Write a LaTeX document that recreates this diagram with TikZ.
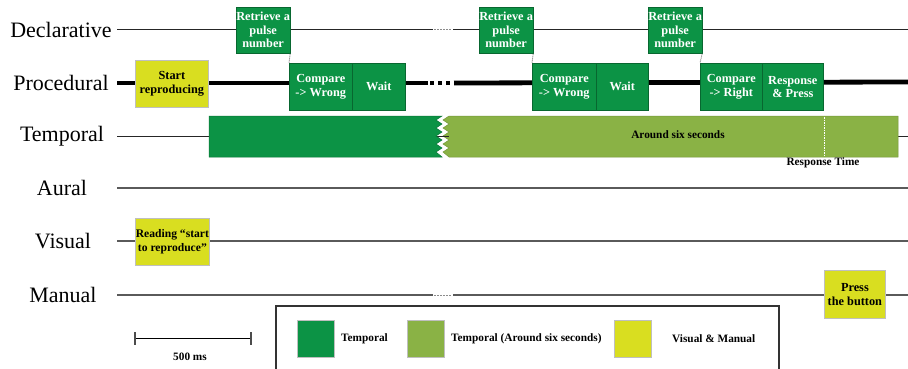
\documentclass[tikz,border=0pt]{standalone}
\usepackage{fontspec}
\setmainfont{Liberation Serif}
\definecolor{dgreen}{RGB}{12,147,69}
\definecolor{lgreen}{RGB}{138,178,69}
\definecolor{yel}{RGB}{217,222,32}
\definecolor{lineg}{RGB}{90,90,90}
\begin{document}
\begin{tikzpicture}[x=1pt,y=-1pt,
  rowlabel/.style={font=\fontsize{22}{25}\selectfont, inner sep=0pt},
  boxtext/.style={font=\bfseries\fontsize{12.3}{13.5}\selectfont, align=center, inner sep=0pt, anchor=north west},
  gbox/.style={boxtext, fill=dgreen, draw=dgreen!70!black, line width=0.6pt, text=white},
  ybox/.style={boxtext, fill=yel, draw=black!25, line width=0.8pt, text=black},
  thinline/.style={draw=black!85, line width=1pt},
  grayline/.style={draw=lineg, line width=1.3pt},
  gapdots/.style={draw=black!45, line width=1pt, dash pattern=on 1.5pt off 1.5pt},
  link/.style={draw=black!60, line width=0.8pt, dash pattern=on 1pt off 1pt},
  small/.style={font=\bfseries\fontsize{11.3}{13}\selectfont, inner sep=0pt},
  legsq/.style={draw=black!25, line width=0.8pt, minimum width=37pt, minimum height=37pt, inner sep=0pt, anchor=north west}
]
\useasboundingbox (0,0) rectangle (908,369);
\clip (0,0) rectangle (908,369);
\fill[white] (0,0) rectangle (908,369);

% row labels
\node[rowlabel] (lD) at (61,30) {Declarative};
\node[rowlabel] (lP) at (61,83) {Procedural};
\node[rowlabel] (lT) at (62,136) {Temporal};
\node[rowlabel] (lA) at (62,188) {Aural};
\node[rowlabel] (lV) at (63,241) {Visual};
\node[rowlabel] (lM) at (63,295) {Manual};

% timelines
\draw[thinline] (117,30) -- (433,30);
\draw[gapdots] (434,30) -- (452,30);
\draw[thinline] (453,30) -- (908,30);

\draw[black, line width=4.8pt] (117,83) -- (428,83);
\foreach \x in {432,440,448} \fill[black] (\x-2,81) rectangle (\x+2,85);
\draw[black, line width=4.8pt] (454,83) -- (908,82);

\draw[thinline] (117,136) -- (908,136);
\draw[grayline] (117,188) -- (908,188);
\draw[grayline] (117,241) -- (908,241);
\draw[grayline] (117,295) -- (433,295);
\draw[gapdots] (434,295) -- (452,295);
\draw[grayline] (453,295) -- (908,295);

% temporal bars
\fill[dgreen, draw=dgreen!80!black, line width=0.5pt] (209,116) -- (442,116) -- (436,120) -- (442,124) -- (436,128) -- (442,132) -- (436,136) -- (442,140) -- (436,144) -- (442,148) -- (436,152) -- (442,157) -- (209,157) -- cycle;
\fill[lgreen, draw=lgreen!85!black, line width=0.5pt] (898,116) -- (449,116) -- (443,120) -- (449,124) -- (443,128) -- (449,132) -- (443,136) -- (449,140) -- (443,144) -- (449,148) -- (443,152) -- (449,157) -- (898,157) -- cycle;
\draw[thinline] (442,136) -- (449,136);
\node[small] (six) at (678,135) {Around six seconds};
\draw[white, line width=1pt, dash pattern=on 1.5pt off 1pt] (824,117) -- (824,156);
\node[small] (resp) at (823,163) {Response Time};

% declarative boxes
\node[gbox, minimum width=53pt, minimum height=46pt] (r1) at (236,7) {Retrieve a\\pulse\\number};
\node[gbox, minimum width=53pt, minimum height=46pt] (r2) at (479,7) {Retrieve a\\pulse\\number};
\node[gbox, minimum width=52pt, minimum height=46pt] (r3) at (648,7) {Retrieve a\\pulse\\number};

% procedural boxes
\node[ybox, minimum width=73pt, minimum height=47pt] (start) at (135,60) {Start\\reproducing};
\node[gbox, minimum width=63pt, minimum height=47pt] (cw1) at (289,63) {Compare\\-> Wrong};
\node[gbox, minimum width=53pt, minimum height=47pt] (w1) at (352,63) {Wait};
\node[gbox, minimum width=64pt, minimum height=47pt] (cw2) at (532,63) {Compare\\-> Wrong};
\node[gbox, minimum width=52pt, minimum height=47pt] (w2) at (596,63) {Wait};
\node[gbox, minimum width=62pt, minimum height=47pt] (cr) at (700,63) {Compare\\-> Right};
\node[gbox, minimum width=61pt, minimum height=47pt] (rp) at (762,63) {Response\\\& Press};

\draw[link] (r1.south east) -- (cw1.north west);
\draw[link] (r2.south east) -- (cw2.north west);
\draw[link] (r3.south east) -- (cr.north west);

% visual and manual boxes
\node[ybox, minimum width=74pt, minimum height=47pt, font=\bfseries\fontsize{11.6}{13.5}\selectfont] (read) at (135,218) {Reading “start\\to reproduce”};
\node[ybox, minimum width=61pt, minimum height=48pt] (press) at (824,270) {Press\\the button};

% scale bar
\coordinate (sbL) at (135,338);
\coordinate (sbR) at (251,338);
\draw[black, line width=1pt] (sbL) -- (sbR);
\draw[black!70, line width=1.2pt] (135,332) -- (135,345) (251,332) -- (251,345);
\node[small] (ms) at (190,357) {500 ms};

% legend
\draw[black!80, line width=1.2pt] (276,306) rectangle (779,380);
\node[legsq, fill=dgreen] (k1) at (297,320) {};
\node[small, anchor=west] (t1) at (341,339) {Temporal};
\node[legsq, fill=lgreen] (k2) at (407,320) {};
\node[small, anchor=west] (t2) at (451,339) {Temporal (Around six seconds)};
\node[legsq, fill=yel] (k3) at (614,320) {};
\node[small, anchor=west] (t3) at (672,339) {Visual \& Manual};
\end{tikzpicture}
\end{document}
